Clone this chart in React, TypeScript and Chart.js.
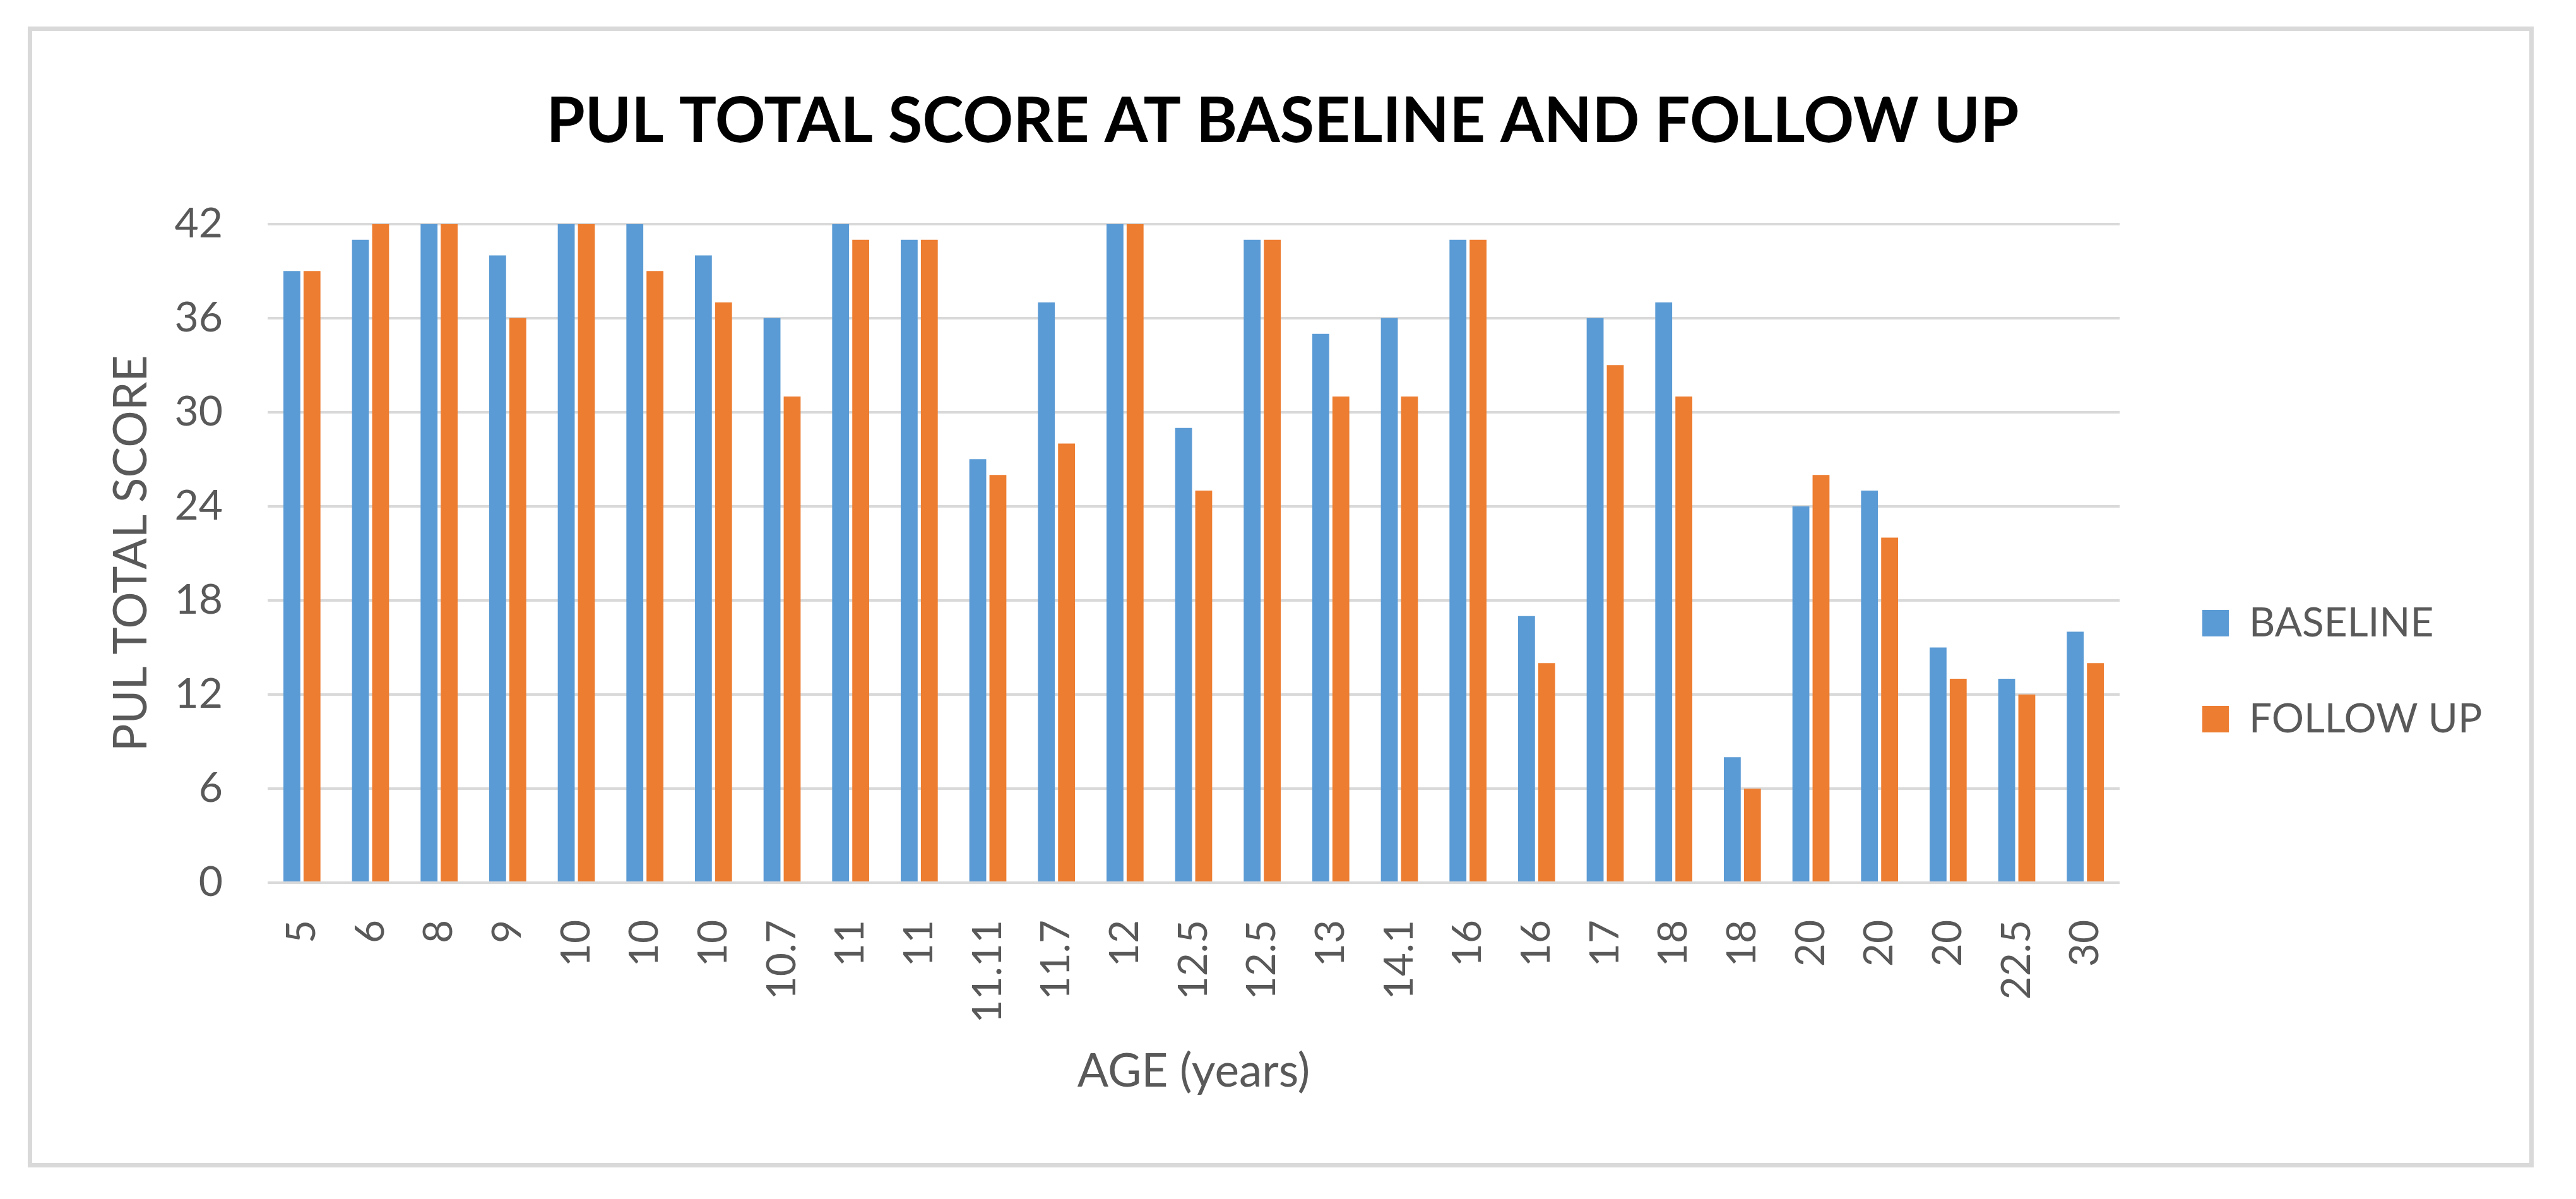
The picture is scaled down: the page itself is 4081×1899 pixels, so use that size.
import { useEffect, useRef } from 'react';
import { Chart, registerables } from 'chart.js';

Chart.register(...registerables);

const TITLE = 'PUL TOTAL SCORE AT BASELINE AND FOLLOW UP';
const X_TITLE = 'AGE (years)';
const Y_TITLE = 'PUL TOTAL SCORE';
const SERIES_NAMES = ['BASELINE', 'FOLLOW UP'];
const AGE_LABELS = ['5', '6', '8', '9', '10', '10', '10', '10.7', '11', '11', '11.11', '11.7', '12', '12.5', '12.5', '13', '14.1', '16', '16', '17', '18', '18', '20', '20', '20', '22.5', '30'];
const BASELINE = [39, 41, 42, 40, 42, 42, 40, 36, 42, 41, 27, 37, 42, 29, 41, 35, 36, 41, 17, 36, 37, 8, 24, 25, 15, 13, 16];
const FOLLOW_UP = [39, 42, 42, 36, 42, 39, 37, 31, 41, 41, 26, 28, 42, 25, 41, 31, 31, 41, 14, 33, 31, 6, 26, 22, 13, 12, 14];
const Y_TICKS = [0, 6, 12, 18, 24, 30, 36, 42];

const FONT = 'Lato, "Open Sans", sans-serif';
const TEXT = '#595959';

const LEGEND_FONT_SIZE = 64;
const LEGEND_BOX = 42;
const LEGEND_PAD = 88;
const CANVAS_W = 4065;
const CANVAS_H = 1883;
const AREA_LEFT = 416;
const AREA_RIGHT = 3360;
const LEGEND_BOX_LEFT = 3491;

function measure(text: string, font: string): number {
  const c = document.createElement('canvas').getContext('2d');
  if (!c) return 0;
  c.font = font;
  return c.measureText(text).width;
}

export default function App() {
  const ref = useRef<HTMLCanvasElement | null>(null);

  useEffect(() => {
    let chart: Chart | null = null;
    let cancelled = false;
    const make = () => {
      if (cancelled || !ref.current) return;
      const textW = Math.max(...SERIES_NAMES.map((n) => measure(n, `${LEGEND_FONT_SIZE}px ${FONT}`)));
      const legendW = LEGEND_PAD + LEGEND_BOX + LEGEND_FONT_SIZE / 2 + textW;
      const gapW = LEGEND_BOX_LEFT - AREA_RIGHT - LEGEND_PAD;
      const padRight = Math.max(0, CANVAS_W - AREA_RIGHT - gapW - legendW);
      const padLeft = Math.max(0, padRight - 17);
      const yTitleLh = 73 * 1.2;
      chart = new Chart(ref.current, {
        type: 'bar',
        data: {
          labels: AGE_LABELS,
          datasets: [
            {
              label: SERIES_NAMES[0],
              data: BASELINE,
              backgroundColor: '#5b9bd5',
              borderWidth: 0,
              categoryPercentage: 0.587,
              barPercentage: 0.84,
            },
            {
              label: SERIES_NAMES[1],
              data: FOLLOW_UP,
              backgroundColor: '#ed7d31',
              borderWidth: 0,
              categoryPercentage: 0.587,
              barPercentage: 0.84,
            },
          ],
        },
        options: {
          animation: false,
          responsive: true,
          maintainAspectRatio: false,
          devicePixelRatio: 1,
          layout: { padding: { left: padLeft, right: padRight, top: 0, bottom: 150 } },
          plugins: {
            tooltip: { enabled: false },
            title: {
              display: true,
              text: TITLE,
              color: '#000000',
              font: { family: FONT, size: 99, weight: 'bold' },
              padding: { top: 126, bottom: 102 },
            },
            legend: {
              position: 'right',
              align: 'start',
              title: { display: true, text: '', font: { size: 10 }, padding: { top: 847, bottom: 0 } },
              labels: {
                boxWidth: LEGEND_BOX,
                boxHeight: LEGEND_BOX,
                padding: LEGEND_PAD,
                color: TEXT,
                font: { family: FONT, size: LEGEND_FONT_SIZE },
              },
            },
          },
          scales: {
            x: {
              grid: { display: false },
              border: { display: false },
              ticks: {
                autoSkip: false,
                minRotation: 90,
                maxRotation: 90,
                padding: 51,
                color: TEXT,
                font: { family: FONT, size: 64 },
              },
              title: {
                display: true,
                text: X_TITLE,
                color: TEXT,
                font: { family: FONT, size: 73 },
                padding: { top: 0, bottom: 0 },
              },
              afterFit: (s: any) => { s.height = 343; },
            },
            y: {
              min: 0,
              max: 42,
              grid: { color: '#d9d9d9', lineWidth: 4, drawTicks: false },
              border: { display: false },
              ticks: {
                stepSize: 6,
                padding: 71,
                color: TEXT,
                font: { family: FONT, size: 66 },
              },
              afterBuildTicks: (s: any) => { s.ticks = Y_TICKS.map((v) => ({ value: v })); },
              title: {
                display: true,
                text: Y_TITLE,
                color: TEXT,
                font: { family: FONT, size: 73 },
                padding: { top: Math.max(0, 200 - padLeft - yTitleLh / 2), bottom: 0 },
              },
              afterFit: (s: any) => { s.width = AREA_LEFT - padLeft; },
            },
            gap: {
              type: 'linear',
              position: 'right',
              display: true,
              grid: { display: false },
              border: { display: false },
              ticks: { display: false },
              afterFit: (s: any) => { s.width = gapW; },
            },
          },
        },
      } as any);
    };
    const fonts = (document as any).fonts;
    if (fonts && fonts.load) {
      Promise.all([
        fonts.load('64px Lato'),
        fonts.load('bold 99px Lato'),
      ]).then(make, make);
    } else {
      make();
    }
    return () => {
      cancelled = true;
      if (chart) chart.destroy();
    };
  }, []);

  return (
    <div style={{ position: 'relative', width: CANVAS_W, height: CANVAS_H, background: '#ffffff' }}>
      <canvas ref={ref} style={{ display: 'block' }} />
      <div
        style={{
          position: 'absolute',
          left: 36,
          top: 34,
          width: 3970,
          height: 1807,
          border: '7px solid #d9d9d9',
          boxSizing: 'border-box',
          pointerEvents: 'none',
        }}
      />
    </div>
  );
}
